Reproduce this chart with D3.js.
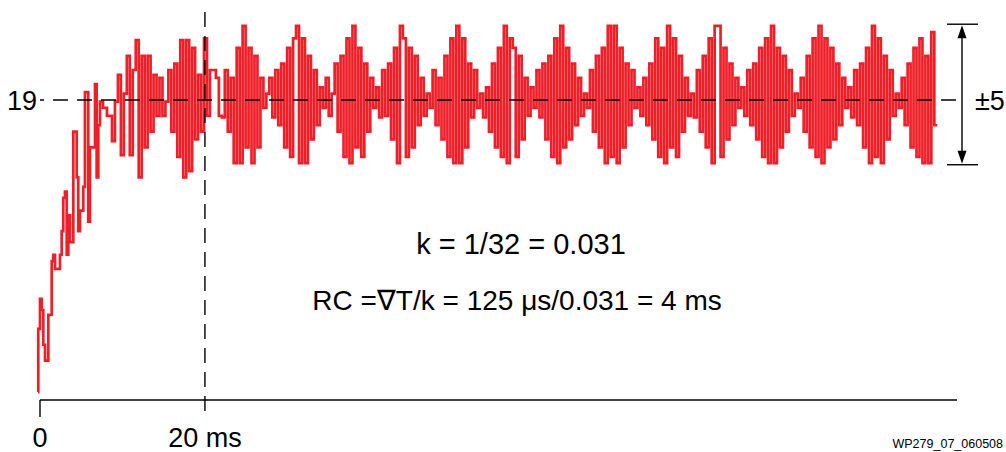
<!DOCTYPE html>
<html>
<head>
<meta charset="utf-8">
<script src="https://cdn.jsdelivr.net/npm/d3@7"></script>
<style>
  html, body { margin: 0; padding: 0; background: #fff; }
  svg text { font-family: "Liberation Sans", Arial, Helvetica, sans-serif; fill: #000; }
</style>
</head>
<body>
<svg id="chart" width="1006" height="452"></svg>
<script>
// start-up part of the filter output as [ms] / [value]
const riseTimes = [
  -0.24, -0.21, 0, 0.21, 0.4, 0.61, 1.01, 1.42, 1.61, 1.82, 2.42, 2.63, 2.82, 3.03,
  3.24, 3.43, 3.64, 4.04, 4.45, 4.64, 4.85, 5.25, 5.45, 5.85, 6.06, 6.67, 6.87, 7.07,
  7.27, 7.64, 8.12, 8.73
];
const riseValues = [
  0.5, 4.5, 6.4, 5.7, 3.5, 2.5, 5.4, 8.8, 9.2, 8.3, 9.2, 10.7, 12.8, 13.2,
  9.2, 11.7, 10.0, 17.0, 14.1, 10.7, 12.0, 13.5, 19.5, 11.3, 16.0, 20.0, 14.1, 17.4,
  18.9, 18.5, 18.0, 16.4
];

// after that, one sample every stepMs
const steadyStart = 9.09;
const stepMs = 0.36;
const steadyValues = [
  18.9, 20.6, 15.5, 19.4, 21.8, 15.5, 20.9, 22.8, 14.1, 21.8, 16.0, 21.8, 17.0, 20.6, 18.0, 20.4, 18.0, 18.9,
  20.9, 17.0, 21.3, 15.4, 22.8, 14.1, 22.8, 14.5, 22.3, 16.5, 20.6, 17.0,
  22.9, 18.0, 20.9, 20.9, 20.4, 18.0, 17.9, 20.9, 17.0, 20.4, 15.0, 22.3, 15.0, 23.7, 16.0, 22.3, 15.0, 21.8, 16.0, 20.4, 18.5,
  19.4, 20.4, 17.9, 20.9, 17.4, 21.3, 16.0, 22.3, 15.4, 22.9, 23.7, 15.0, 22.9, 15.0, 21.8, 16.5, 20.9, 17.4,
  19.8, 18.5, 20.4, 18.0, 19.4, 21.3, 17.0, 21.8, 15.4, 22.9, 15.0, 23.7, 16.0, 22.3, 15.4, 21.3, 17.0, 20.4,
  18.5, 19.8, 17.9, 20.9, 18.0, 21.3, 16.5, 22.3, 15.0, 23.7, 22.9, 15.4, 22.3, 16.0, 21.8, 17.4, 20.4,
  18.0, 19.4, 18.5, 20.9, 17.4, 20.4, 16.5, 21.8, 15.4, 22.9, 15.0, 23.7, 15.0, 22.9, 16.0, 21.3, 17.9, 20.9,
  18.5, 19.4, 17.9, 19.8, 17.0, 21.3, 16.0, 22.3, 15.4, 23.7, 15.0, 22.9, 22.3, 15.4, 21.8, 16.5, 20.4, 18.0,
  19.8, 18.5, 20.9, 17.9, 21.3, 16.5, 21.8, 15.4, 22.9, 15.0, 23.7, 16.0, 22.3, 16.5, 21.3, 17.4, 20.4,
  18.0, 19.4, 18.5, 20.9, 17.0, 21.8, 16.0, 22.3, 15.0, 23.7, 15.4, 23.7, 15.0, 22.3, 16.0, 21.3, 17.4, 20.9,
  18.5, 19.8, 18.0, 20.4, 17.4, 21.3, 16.5, 22.9, 15.4, 22.3, 15.0, 23.7, 16.0, 22.9, 15.4, 21.8, 17.0, 20.4,
  18.0, 19.4, 17.9, 20.9, 17.0, 21.8, 16.0, 22.9, 15.0, 23.7, 23.7, 15.4, 22.3, 16.5, 21.3, 17.4, 20.4,
  18.5, 19.8, 18.0, 20.9, 17.4, 21.3, 16.5, 22.3, 15.4, 22.9, 15.0, 23.7, 15.0, 22.3, 16.0, 21.8, 17.0, 20.9,
  18.0, 19.4, 18.5, 20.4, 17.0, 21.8, 16.0, 22.9, 15.4, 23.7, 15.0, 22.9, 16.0, 22.3, 16.5, 21.3, 17.4, 20.4,
  18.5, 19.8, 17.9, 20.9, 17.4, 21.3, 16.0, 22.3, 15.0, 23.7, 15.4, 22.9, 15.0, 21.8, 16.5, 20.9, 18.0,
  19.4, 18.5, 20.4, 17.4, 21.3, 16.0, 22.3, 15.4, 22.9, 15.0, 21.8, 15.0, 23.3, 17.4
];

const refLevel = 19;
const refLabel = "19";
const xTickValues = [0, 20];
const xTickLabels = ["0", "20 ms"];
const xAxisEnd = 111.2;
const bracketValues = [14.9, 23.8];
const bracketLabel = "±5";
const notes = ["k = 1/32 = 0.031", "RC =∇T/k = 125 μs/0.031 = 4 ms"];
const figureId = "WP279_07_060508";

const svg = d3.select("#chart");
const red = "#ef1f28";

const x = d3.scaleLinear().domain([0, xAxisEnd]).range([40, 957]);
const y = d3.scaleLinear().domain([0, refLevel]).range([400, 100]);

// build the series
const points = riseTimes.map((t, i) => ({ t, v: riseValues[i] }));
steadyValues.forEach((v, i) => points.push({ t: steadyStart + i * stepMs, v }));
points.push({
  t: steadyStart + steadyValues.length * stepMs,
  v: steadyValues[steadyValues.length - 1],
});

const line = d3
  .line()
  .x((d) => x(d.t))
  .y((d) => y(d.v))
  .curve(d3.curveStepAfter);

svg
  .append("path")
  .datum(points)
  .attr("d", line)
  .attr("fill", "none")
  .attr("stroke", red)
  .attr("stroke-width", 2.7)
  .attr("stroke-linejoin", "miter");

// x axis
const axis = svg.append("g").attr("stroke", "#000").attr("stroke-width", 1.4);
axis
  .append("line")
  .attr("x1", x(0))
  .attr("x2", x(xAxisEnd))
  .attr("y1", y(0))
  .attr("y2", y(0));
axis
  .append("line")
  .attr("x1", x(xTickValues[0]))
  .attr("x2", x(xTickValues[0]))
  .attr("y1", y(0))
  .attr("y2", y(0) + 17);

// dashed marker at 20 ms
axis
  .append("line")
  .attr("x1", x(xTickValues[1]))
  .attr("x2", x(xTickValues[1]))
  .attr("y1", 12)
  .attr("y2", y(0) + 12)
  .attr("stroke-dasharray", "15 9");

// dashed reference level
axis
  .append("line")
  .attr("x1", x(0))
  .attr("x2", x(xAxisEnd))
  .attr("y1", y(refLevel))
  .attr("y2", y(refLevel))
  .attr("stroke-dasharray", "15 9")
  .attr("stroke-dashoffset", 11);

svg
  .selectAll(".xlabel")
  .data(xTickValues)
  .join("text")
  .attr("class", "xlabel")
  .attr("x", (d) => x(d))
  .attr("y", 447)
  .attr("text-anchor", "middle")
  .style("font-size", "27px")
  .text((d, i) => xTickLabels[i]);

svg
  .append("text")
  .attr("x", 37)
  .attr("y", y(refLevel) + 10)
  .attr("text-anchor", "end")
  .style("font-size", "27px")
  .text(refLabel);

// ±5 bracket
const bx = 962;
const yTop = y(bracketValues[1]);
const yBot = y(bracketValues[0]);
const br = svg.append("g").attr("stroke", "#000").attr("stroke-width", 1.4);
[yTop, yBot].forEach((yy) =>
  br.append("line").attr("x1", 947).attr("x2", 978).attr("y1", yy).attr("y2", yy),
);
br.append("line").attr("x1", bx).attr("x2", bx).attr("y1", yTop + 8).attr("y2", yBot - 8);
svg
  .append("path")
  .attr("d", `M${bx},${yTop + 1}L${bx - 4.5},${yTop + 14}L${bx + 4.5},${yTop + 14}Z` +
    `M${bx},${yBot - 1}L${bx - 4.5},${yBot - 14}L${bx + 4.5},${yBot - 14}Z`)
  .attr("fill", "#000");

svg
  .append("text")
  .attr("x", 975)
  .attr("y", y(refLevel) + 10)
  .style("font-size", "27px")
  .text(bracketLabel);

// notes
svg
  .selectAll(".note")
  .data(notes)
  .join("text")
  .attr("class", "note")
  .attr("x", (d, i) => (i === 0 ? 521 : 517))
  .attr("y", (d, i) => (i === 0 ? 254 : 310))
  .attr("text-anchor", "middle")
  .style("font-size", (d, i) => (i === 0 ? "29px" : "28px"))
  .text((d) => d);

svg
  .append("text")
  .attr("x", 1003)
  .attr("y", 448)
  .attr("text-anchor", "end")
  .style("font-size", "12.5px")
  .text(figureId);
</script>
</body>
</html>
